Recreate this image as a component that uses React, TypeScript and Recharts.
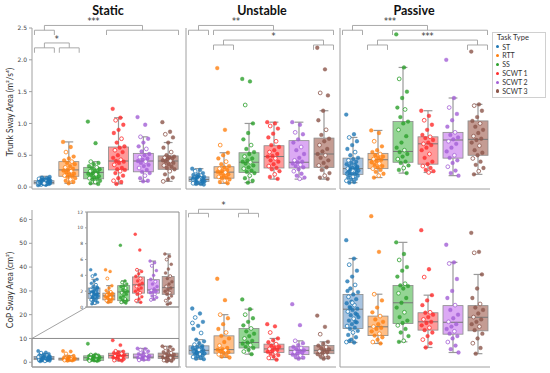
import React from "react";
import { ComposedChart, Bar, Scatter, XAxis, YAxis, ReferenceLine, ReferenceArea } from "recharts";

const CATS = ["ST", "RTT", "SS", "SCWT 1", "SCWT 2", "SCWT 3"];
const DOT = ["#1f77b4", "#ff7f0e", "#2ca02c", "#ff2b2b", "#a35fd6", "#8c564b"];
const FILL = ["#a7c3e0", "#ffbe86", "#94d594", "#ff9a9a", "#dcaaf4", "#c49c93"];
const AXIS = "#a0a0a0";

// box stats per task: [low whisker, q1, median, q3, high whisker]
const trunkStaticBox = [
  [0.03, 0.05, 0.07, 0.1, 0.17],
  [0.06, 0.17, 0.27, 0.4, 0.71],
  [0.05, 0.13, 0.23, 0.31, 0.4],
  [0.05, 0.27, 0.41, 0.63, 1.09],
  [0.09, 0.24, 0.41, 0.53, 0.79],
  [0.09, 0.28, 0.41, 0.49, 0.7],
];
const trunkUnstableBox = [
  [0.04, 0.09, 0.12, 0.16, 0.29],
  [0.06, 0.14, 0.235, 0.32, 0.54],
  [0.07, 0.23, 0.39, 0.54, 1.0],
  [0.125, 0.3, 0.48, 0.65, 1.02],
  [0.125, 0.3, 0.39, 0.73, 1.02],
  [0.125, 0.31, 0.52, 0.77, 1.2],
];
const trunkPassiveBox = [
  [0.07, 0.2, 0.29, 0.455, 0.78],
  [0.15, 0.29, 0.43, 0.53, 0.89],
  [0.22, 0.39, 0.56, 1.03, 1.88],
  [0.23, 0.36, 0.68, 0.79, 1.2],
  [0.18, 0.455, 0.74, 0.86, 1.4],
  [0.2, 0.5, 0.75, 1.04, 1.3],
];
const copStaticBox = [
  [0.35, 1.1, 1.7, 2.4, 3.5],
  [0.55, 0.9, 1.4, 1.75, 2.7],
  [0.5, 0.8, 1.9, 2.7, 3.3],
  [0.55, 1.75, 2.8, 3.8, 4.7],
  [0.9, 1.75, 2.15, 3.45, 5.8],
  [0.35, 1.6, 2.45, 3.85, 6.7],
];
const copUnstableBox = [
  [1.3, 3.4, 5.0, 6.9, 9.5],
  [2.0, 3.8, 5.3, 11.1, 20.0],
  [3.4, 6.0, 8.3, 14.2, 22.3],
  [1.1, 4.1, 5.6, 7.6, 10.0],
  [1.5, 3.2, 5.0, 6.5, 9.0],
  [1.5, 3.6, 5.0, 7.0, 8.6],
];
const copPassiveBox = [
  [8.3, 14.2, 22.3, 28.5, 43.6],
  [7.9, 11.2, 14.9, 19.4, 28.6],
  [8.6, 16.3, 25.0, 32.3, 50.4],
  [6.2, 13.5, 17.0, 20.8, 28.2],
  [4.1, 11.8, 16.8, 23.8, 42.0],
  [3.6, 13.2, 18.9, 23.8, 36.9],
];

// individual subjects
const trunkStaticPts = [
  [0.03, 0.04, 0.04, 0.05, 0.05, 0.05, 0.06, 0.06, 0.06, 0.07, 0.07, 0.07, 0.07, 0.08, 0.08, 0.08, 0.09, 0.09, 0.09, 0.1, 0.1, 0.1, 0.11, 0.11, 0.12, 0.12, 0.13, 0.14, 0.15, 0.16, 0.05, 0.06, 0.08, 0.09, 0.07, 0.04, 0.11, 0.13, 0.06, 0.08],
  [0.71, 0.63, 0.55, 0.48, 0.45, 0.42, 0.4, 0.38, 0.36, 0.33, 0.31, 0.29, 0.27, 0.26, 0.25, 0.23, 0.21, 0.2, 0.18, 0.17, 0.16, 0.14, 0.12, 0.1, 0.08, 0.06],
  [1.03, 0.69, 0.4, 0.38, 0.36, 0.33, 0.31, 0.3, 0.28, 0.26, 0.25, 0.23, 0.22, 0.21, 0.2, 0.19, 0.17, 0.15, 0.14, 0.13, 0.12, 0.1, 0.08, 0.06, 0.05],
  [1.23, 1.09, 1.05, 0.98, 0.9, 0.85, 0.76, 0.7, 0.64, 0.62, 0.58, 0.55, 0.5, 0.46, 0.43, 0.41, 0.4, 0.38, 0.35, 0.3, 0.28, 0.27, 0.25, 0.22, 0.18, 0.14, 0.1, 0.08, 0.05],
  [1.1, 0.98, 0.79, 0.76, 0.7, 0.64, 0.6, 0.56, 0.52, 0.5, 0.47, 0.45, 0.43, 0.41, 0.4, 0.38, 0.35, 0.33, 0.3, 0.27, 0.24, 0.22, 0.18, 0.14, 0.1, 0.09],
  [1.02, 0.87, 0.83, 0.78, 0.7, 0.62, 0.55, 0.5, 0.48, 0.47, 0.46, 0.45, 0.44, 0.42, 0.41, 0.4, 0.38, 0.36, 0.34, 0.32, 0.3, 0.28, 0.25, 0.2, 0.15, 0.12, 0.09],
];
const trunkUnstablePts = [
  [0.29, 0.27, 0.25, 0.22, 0.2, 0.19, 0.18, 0.17, 0.16, 0.16, 0.15, 0.14, 0.14, 0.13, 0.13, 0.12, 0.12, 0.11, 0.11, 0.1, 0.1, 0.09, 0.09, 0.08, 0.08, 0.07, 0.06, 0.05, 0.05, 0.04, 0.12, 0.14, 0.1, 0.15],
  [1.87, 0.9, 0.66, 0.54, 0.5, 0.45, 0.4, 0.36, 0.33, 0.31, 0.29, 0.27, 0.25, 0.24, 0.23, 0.22, 0.2, 0.18, 0.16, 0.15, 0.14, 0.12, 0.1, 0.08, 0.06],
  [1.7, 1.66, 1.29, 1.0, 0.85, 0.75, 0.66, 0.6, 0.55, 0.52, 0.48, 0.45, 0.42, 0.4, 0.39, 0.37, 0.34, 0.31, 0.29, 0.26, 0.24, 0.22, 0.18, 0.14, 0.1, 0.07],
  [1.02, 1.0, 0.96, 0.92, 0.84, 0.78, 0.72, 0.66, 0.63, 0.58, 0.55, 0.52, 0.49, 0.48, 0.45, 0.42, 0.4, 0.36, 0.33, 0.3, 0.28, 0.25, 0.2, 0.16, 0.13],
  [1.02, 0.98, 0.86, 0.83, 0.75, 0.7, 0.63, 0.58, 0.52, 0.46, 0.42, 0.4, 0.39, 0.37, 0.35, 0.33, 0.31, 0.28, 0.25, 0.21, 0.18, 0.15, 0.13],
  [2.19, 1.85, 1.48, 1.44, 1.2, 1.05, 0.9, 0.82, 0.76, 0.72, 0.66, 0.6, 0.56, 0.52, 0.5, 0.46, 0.42, 0.38, 0.34, 0.31, 0.27, 0.22, 0.18, 0.15, 0.13],
];
const trunkPassivePts = [
  [1.14, 0.83, 0.78, 0.72, 0.66, 0.6, 0.55, 0.5, 0.46, 0.44, 0.42, 0.4, 0.38, 0.36, 0.34, 0.33, 0.32, 0.3, 0.29, 0.28, 0.27, 0.26, 0.25, 0.24, 0.23, 0.22, 0.21, 0.2, 0.19, 0.18, 0.16, 0.15, 0.13, 0.12, 0.1, 0.08, 0.07, 0.3, 0.26, 0.22, 0.35, 0.28],
  [0.89, 0.85, 0.72, 0.64, 0.58, 0.55, 0.52, 0.5, 0.48, 0.46, 0.44, 0.43, 0.41, 0.39, 0.37, 0.35, 0.33, 0.31, 0.29, 0.27, 0.24, 0.21, 0.18, 0.15],
  [2.4, 1.88, 1.7, 1.5, 1.4, 1.25, 1.22, 1.1, 1.03, 1.0, 0.9, 0.8, 0.7, 0.62, 0.58, 0.55, 0.52, 0.48, 0.44, 0.4, 0.38, 0.34, 0.3, 0.27, 0.22],
  [1.2, 1.12, 1.05, 0.98, 0.9, 0.82, 0.79, 0.77, 0.74, 0.7, 0.68, 0.66, 0.62, 0.58, 0.52, 0.46, 0.4, 0.36, 0.33, 0.3, 0.27, 0.25, 0.23],
  [2.0, 1.4, 1.25, 1.15, 1.05, 0.95, 0.86, 0.82, 0.78, 0.75, 0.72, 0.68, 0.62, 0.56, 0.5, 0.46, 0.42, 0.38, 0.32, 0.26, 0.22, 0.18],
  [2.13, 1.3, 1.28, 1.2, 1.1, 1.04, 1.0, 0.95, 0.9, 0.85, 0.8, 0.76, 0.74, 0.7, 0.65, 0.58, 0.54, 0.5, 0.45, 0.4, 0.35, 0.3, 0.25, 0.2],
];
const copStaticPts = [
  [4.7, 4.1, 3.9, 3.5, 3.3, 3.0, 2.8, 2.6, 2.4, 2.3, 2.2, 2.1, 2.0, 1.9, 1.8, 1.8, 1.7, 1.7, 1.6, 1.5, 1.5, 1.4, 1.3, 1.2, 1.1, 1.0, 0.9, 0.8, 0.7, 0.6, 0.5, 0.4, 1.6, 1.9, 2.2, 1.4, 1.2, 2.5],
  [4.7, 4.5, 3.6, 2.7, 2.4, 2.1, 1.9, 1.8, 1.7, 1.6, 1.5, 1.4, 1.4, 1.3, 1.2, 1.1, 1.0, 0.9, 0.8, 0.7, 0.6],
  [7.8, 3.3, 3.1, 2.9, 2.7, 2.6, 2.4, 2.2, 2.0, 1.9, 1.8, 1.6, 1.4, 1.2, 1.0, 0.9, 0.8, 0.7, 0.6, 0.5],
  [9.2, 7.2, 4.7, 4.5, 4.2, 3.9, 3.6, 3.3, 3.0, 2.8, 2.6, 2.4, 2.2, 2.0, 1.8, 1.6, 1.3, 1.0, 0.8, 0.6],
  [5.8, 5.6, 5.2, 4.6, 4.0, 3.5, 3.2, 2.9, 2.6, 2.3, 2.1, 2.0, 1.9, 1.8, 1.6, 1.4, 1.2, 1.0, 0.9],
  [6.7, 6.4, 6.0, 5.4, 4.8, 4.3, 3.9, 3.6, 3.2, 2.9, 2.6, 2.4, 2.2, 2.0, 1.8, 1.6, 1.4, 1.1, 0.8, 0.5, 0.35],
];
const copUnstablePts = [
  [22.6, 20.5, 18.8, 17.0, 15.3, 14.0, 12.3, 9.5, 8.8, 8.0, 7.4, 6.9, 6.5, 6.0, 5.6, 5.3, 5.0, 4.8, 4.5, 4.2, 4.0, 3.7, 3.4, 3.1, 2.8, 2.5, 2.2, 1.8, 1.5, 1.3, 5.2, 4.6, 6.2, 3.8, 16.5],
  [35.1, 26.1, 20.0, 18.5, 16.0, 14.0, 12.5, 11.1, 10.0, 8.5, 7.0, 6.0, 5.5, 5.3, 5.0, 4.6, 4.2, 3.8, 3.3, 2.8, 2.4, 2.0],
  [26.4, 22.3, 20.0, 18.5, 17.0, 15.5, 14.2, 13.0, 12.0, 11.0, 10.0, 9.0, 8.3, 7.8, 7.2, 6.5, 6.0, 5.2, 4.5, 3.4],
  [16.0, 15.1, 12.5, 10.0, 9.2, 8.4, 7.6, 7.0, 6.5, 6.0, 5.6, 5.2, 4.8, 4.4, 4.1, 3.5, 3.0, 2.4, 1.8, 1.1],
  [24.4, 15.6, 9.0, 8.0, 7.2, 6.5, 6.0, 5.5, 5.0, 4.7, 4.3, 4.0, 3.6, 3.2, 2.8, 2.3, 1.9, 1.5],
  [19.6, 14.9, 11.8, 8.6, 7.8, 7.0, 6.4, 5.9, 5.4, 5.0, 4.6, 4.2, 3.8, 3.4, 3.0, 2.5, 2.0, 1.5],
];
const copPassivePts = [
  [51.3, 43.6, 41.0, 38.5, 36.0, 34.0, 32.5, 31.0, 29.5, 28.5, 27.5, 26.5, 25.5, 24.8, 24.0, 23.2, 22.5, 22.0, 21.3, 20.5, 19.8, 19.0, 18.3, 17.5, 16.8, 16.0, 15.2, 14.5, 14.0, 13.2, 12.5, 11.5, 10.5, 9.5, 8.5, 8.3, 9.0, 20.0, 25.0, 30.0, 17.0, 22.8],
  [61.4, 46.4, 28.6, 26.0, 23.0, 21.0, 19.4, 18.0, 17.0, 16.0, 15.0, 14.5, 14.0, 13.0, 12.0, 11.2, 10.5, 9.5, 8.5, 7.9],
  [50.4, 45.5, 43.0, 40.0, 38.5, 36.0, 33.0, 32.3, 32.0, 31.0, 29.0, 27.0, 25.0, 23.0, 21.0, 19.0, 17.5, 16.5, 15.5, 14.0, 12.5, 11.0, 9.0, 8.6],
  [55.5, 39.1, 35.8, 28.2, 26.0, 24.0, 21.0, 20.8, 20.0, 19.0, 18.0, 17.0, 16.5, 15.5, 14.5, 13.5, 12.5, 11.0, 9.5, 8.0, 6.2],
  [49.4, 42.0, 41.5, 35.0, 30.0, 27.0, 24.0, 22.0, 20.0, 18.5, 17.0, 16.0, 15.0, 14.0, 13.0, 12.0, 11.0, 10.0, 8.5, 7.0, 5.5, 4.1],
  [54.4, 46.4, 46.0, 36.9, 31.0, 27.0, 24.5, 23.0, 22.0, 20.5, 19.0, 18.0, 17.0, 16.0, 15.0, 13.5, 12.0, 10.0, 8.0, 6.0, 3.6],
];

const trunkTicks = [0, 0.5, 1, 1.5, 2, 2.5];
const copTicks = [0, 10, 20, 30, 40, 50, 60];
const insetTicks = [0, 2, 4, 6, 8, 10, 12];

type Bracket = { y: number; d: number; l: number[]; r: number[]; lc: number; rc: number; label: string };

// significance brackets (x in task index, y in axis units)
const staticBrackets: Bracket[] = [
  { y: 2.54, d: 0.075, l: [-0.4, 0.4], r: [2.5, 5.4], lc: 0, rc: 3.95, label: "***" },
  { y: 2.265, d: 0.077, l: [-0.4, 0.4], r: [0.6, 1.4], lc: 0, rc: 1, label: "*" },
];
const unstableBrackets: Bracket[] = [
  { y: 2.54, d: 0.075, l: [-0.4, 0.4], r: [0.6, 5.4], lc: 0, rc: 3.0, label: "**" },
  { y: 2.31, d: 0.077, l: [0.6, 1.4], r: [4.6, 5.4], lc: 1, rc: 5, label: "*" },
];
const passiveBrackets: Bracket[] = [
  { y: 2.54, d: 0.075, l: [-0.4, 0.4], r: [1.6, 5.4], lc: 0, rc: 3.0, label: "***" },
  { y: 2.31, d: 0.077, l: [0.6, 1.4], r: [4.6, 5.4], lc: 1, rc: 5, label: "***" },
];
const copUnstableBrackets: Bracket[] = [
  { y: 64.3, d: 1.7, l: [-0.4, 0.4], r: [1.6, 2.4], lc: 0, rc: 2, label: "*" },
];

const jit = (j: number) => (((j * 0.618034) % 1) - 0.5) * 0.5;

const boxShape = (p: any) => {
  const { x, y, width, height, payload } = p;
  const [lo, q1, med, q3, hi] = payload.stat;
  const top = Math.min(y, y + height);
  const bot = Math.max(y, y + height);
  const py = (v: number) => bot - ((v - lo) / (hi - lo)) * (bot - top);
  const cx = x + width / 2;
  const cap = width * 0.22;
  return (
    <g>
      <line x1={cx} x2={cx} y1={py(hi)} y2={py(q3)} stroke="#999" strokeWidth={1.2} />
      <line x1={cx} x2={cx} y1={py(q1)} y2={py(lo)} stroke="#999" strokeWidth={1.2} />
      <line x1={cx - cap} x2={cx + cap} y1={py(hi)} y2={py(hi)} stroke="#999" strokeWidth={1.2} />
      <line x1={cx - cap} x2={cx + cap} y1={py(lo)} y2={py(lo)} stroke="#999" strokeWidth={1.2} />
      <rect x={x} y={py(q3)} width={width} height={Math.max(py(q1) - py(q3), 0.5)} fill={FILL[payload.i]} stroke="#8c8c8c" strokeWidth={0.8} />
      <line x1={x} x2={x + width} y1={py(med)} y2={py(med)} stroke="#777" strokeWidth={1} />
    </g>
  );
};

const dotShape = (color: string, r: number) => (p: any) => {
  const hollow = p.payload.h;
  return (
    <circle cx={p.cx} cy={p.cy} r={r} fill={hollow ? "#fff" : color} fillOpacity={hollow ? 0.9 : 0.8}
      stroke={color} strokeWidth={hollow ? 0.8 : 0.3} />
  );
};

const bracketLines = (b: Bracket, key: string) => {
  const y1 = b.y, y2 = b.y - b.d, y3 = b.y - 2 * b.d;
  const segs = [
    [b.lc, y1, b.rc, y1], [b.lc, y1, b.lc, y2], [b.rc, y1, b.rc, y2],
    [b.l[0], y2, b.l[1], y2], [b.l[0], y2, b.l[0], y3], [b.l[1], y2, b.l[1], y3],
    [b.r[0], y2, b.r[1], y2], [b.r[0], y2, b.r[0], y3], [b.r[1], y2, b.r[1], y3],
  ];
  return segs.map((s, k) => (
    <ReferenceLine key={key + k} segment={[{ x: s[0], y: s[1] }, { x: s[2], y: s[3] }]}
      stroke="#a0a0a0" strokeWidth={0.9} ifOverflow="visible"
      label={k === 0 ? { value: b.label, position: "top", offset: 1, fontSize: 8, fill: "#333", fontFamily: "DejaVu Sans" } : undefined} />
  ));
};

type PanelProps = {
  left: number; top: number; w: number; h: number; yW: number; mTop: number;
  xDom: number[]; yDom: number[]; ticks: number[]; fmt: (v: number) => string; labels: boolean;
  stats: number[][]; pts: number[][]; barSize: number; r: number; brackets?: Bracket[];
  fs?: number; tickSize?: number; zoomRect?: number[]; frame?: boolean; bg?: string;
};

function Panel(p: PanelProps) {
  const rows = p.stats.map((s, i) => ({ x: i, range: [s[0], s[4]], stat: s, i }));
  const mR = 4;
  return (
    <div style={{ position: "absolute", left: p.left - p.yW, top: p.top - p.mTop, background: p.bg }}>
      <ComposedChart width={p.yW + p.w + mR} height={p.mTop + p.h + 2} data={rows}
        margin={{ top: p.mTop, right: mR, bottom: 0, left: 0 }}>
        <XAxis type="number" dataKey="x" domain={p.xDom} allowDataOverflow tick={false} tickLine={false}
          height={2} axisLine={{ stroke: AXIS }} />
        <XAxis xAxisId="pts" type="number" dataKey="x" domain={p.xDom} allowDataOverflow hide />
        <YAxis type="number" domain={p.yDom} allowDataOverflow ticks={p.ticks} interval={0} width={p.yW}
          tickSize={p.tickSize ?? 3} tickLine={{ stroke: AXIS }} axisLine={{ stroke: AXIS }} tickFormatter={p.fmt}
          tick={p.labels ? { fontSize: p.fs ?? 6, fill: "#444", fontFamily: "DejaVu Sans" } : false} />
        {p.frame && (
          <ReferenceArea x1={p.xDom[0]} x2={p.xDom[1]} y1={p.yDom[0]} y2={p.yDom[1]} fill="none" stroke="#8c8c8c" strokeWidth={1} />
        )}
        {p.zoomRect && (
          <ReferenceArea x1={p.zoomRect[0]} x2={p.zoomRect[1]} y1={p.zoomRect[2]} y2={p.zoomRect[3]} fill="none" stroke="#8c8c8c" strokeWidth={1} />
        )}
        <Bar dataKey="range" barSize={p.barSize} isAnimationActive={false} shape={boxShape} />
        {p.pts.map((arr, i) => (
          <Scatter key={CATS[i]} xAxisId="pts" dataKey="y" isAnimationActive={false}
            data={arr.map((v, j) => ({ x: i + jit(j), y: v, h: j % 4 === 2 }))} shape={dotShape(DOT[i], p.r)} />
        ))}
        {(p.brackets ?? []).map((b, k) => bracketLines(b, "b" + k))}
      </ComposedChart>
    </div>
  );
}

const f1 = (v: number) => v.toFixed(1);
const f0 = (v: number) => String(v);

const COLS = [
  { left: 32, w: 149 },
  { left: 186, w: 150 },
  { left: 340, w: 150 },
];
const TOP = { top: 28, h: 161, dom: [-0.03, 2.5] };
const BOT = { top: 210, h: 157, dom: [-2, 64] };
const INSET = { left: 87, top: 212, w: 92, h: 95 };
const XD = [-0.5, 5.5];

export default function App() {
  const titleStyle: React.CSSProperties = {
    position: "absolute", top: 3, transform: "translateX(-50%)", fontFamily: "Lato", fontWeight: 700,
    fontSize: 12.5, color: "#111", whiteSpace: "nowrap",
  };
  const yTitle: React.CSSProperties = {
    position: "absolute", left: 10, transform: "translate(-50%, -50%) rotate(-90deg)", fontFamily: "Lato",
    fontSize: 8.5, color: "#333", whiteSpace: "nowrap",
  };
  // zoom-rectangle corners of the static CoP panel, in pixels
  const bScale = BOT.h / (BOT.dom[1] - BOT.dom[0]);
  const y10 = BOT.top + (BOT.dom[1] - 10) * bScale;
  const zx2 = COLS[0].left + ((5.42 - XD[0]) / (XD[1] - XD[0])) * COLS[0].w;
  return (
    <div style={{ position: "absolute", left: 0, top: 0, width: 550, height: 373, background: "#fff", overflow: "hidden" }}>
      <div style={{ ...titleStyle, left: 108 }}>Static</div>
      <div style={{ ...titleStyle, left: 262 }}>Unstable</div>
      <div style={{ ...titleStyle, left: 414 }}>Passive</div>
      <div style={{ ...yTitle, top: 112 }}>Trunk Sway Area (m²/s⁴)</div>
      <div style={{ ...yTitle, top: 290 }}>CoP Sway Area (cm²)</div>

      <Panel left={COLS[0].left} top={TOP.top} w={COLS[0].w} h={TOP.h} yW={30} mTop={20} xDom={XD} yDom={TOP.dom}
        ticks={trunkTicks} fmt={f1} labels stats={trunkStaticBox} pts={trunkStaticPts} barSize={20} r={1.9} brackets={staticBrackets} />
      <Panel left={COLS[1].left} top={TOP.top} w={COLS[1].w} h={TOP.h} yW={6} mTop={20} xDom={XD} yDom={TOP.dom}
        ticks={trunkTicks} fmt={f1} labels={false} stats={trunkUnstableBox} pts={trunkUnstablePts} barSize={20} r={1.9} brackets={unstableBrackets} />
      <Panel left={COLS[2].left} top={TOP.top} w={COLS[2].w} h={TOP.h} yW={6} mTop={20} xDom={XD} yDom={TOP.dom}
        ticks={trunkTicks} fmt={f1} labels={false} stats={trunkPassiveBox} pts={trunkPassivePts} barSize={20} r={1.9} brackets={passiveBrackets} />

      <Panel left={COLS[0].left} top={BOT.top} w={COLS[0].w} h={BOT.h} yW={30} mTop={15} xDom={XD} yDom={BOT.dom}
        ticks={copTicks} fmt={f0} labels stats={copStaticBox} pts={copStaticPts} barSize={20} r={1.7} zoomRect={[-0.5, 5.42, BOT.dom[0], 10]} />
      <Panel left={COLS[1].left} top={BOT.top} w={COLS[1].w} h={BOT.h} yW={6} mTop={15} xDom={XD} yDom={BOT.dom}
        ticks={copTicks} fmt={f0} labels={false} stats={copUnstableBox} pts={copUnstablePts} barSize={20} r={1.9} brackets={copUnstableBrackets} />
      <Panel left={COLS[2].left} top={BOT.top} w={COLS[2].w} h={BOT.h} yW={6} mTop={15} xDom={XD} yDom={BOT.dom}
        ticks={copTicks} fmt={f0} labels={false} stats={copPassiveBox} pts={copPassivePts} barSize={20} r={1.9} />

      <Panel left={INSET.left} top={INSET.top} w={INSET.w} h={INSET.h} yW={12} mTop={3} xDom={[-0.5, 5.7]} yDom={[0, 12]}
        ticks={insetTicks} fmt={f0} labels fs={4.5} tickSize={2} stats={copStaticBox} pts={copStaticPts} barSize={12} r={1.5} frame bg="#fff" />

      <svg width={550} height={373} style={{ position: "absolute", left: 0, top: 0, pointerEvents: "none" }}>
        <line x1={COLS[0].left} y1={y10} x2={INSET.left} y2={INSET.top + INSET.h} stroke="#8c8c8c" strokeWidth={0.8} />
        <line x1={zx2} y1={y10} x2={INSET.left + INSET.w} y2={INSET.top + INSET.h} stroke="#8c8c8c" strokeWidth={0.8} />
      </svg>

      <div style={{ position: "absolute", left: 492, top: 32, width: 52, height: 64, border: "1px solid #d0d0d0", fontFamily: "Lato", color: "#333" }}>
        <div style={{ position: "absolute", left: 4, top: 1, fontSize: 7.5, lineHeight: "8px", whiteSpace: "nowrap" }}>Task Type</div>
        {CATS.map((c, i) => (
          <div key={c} style={{ position: "absolute", left: 3, top: 9.5 + i * 8.9, height: 8, fontSize: 7, lineHeight: "8px", display: "flex", alignItems: "center", whiteSpace: "nowrap" }}>
            <span style={{ display: "inline-block", width: 3.2, height: 3.2, borderRadius: "50%", background: DOT[i], marginRight: 3 }} />
            {c}
          </div>
        ))}
      </div>
    </div>
  );
}
